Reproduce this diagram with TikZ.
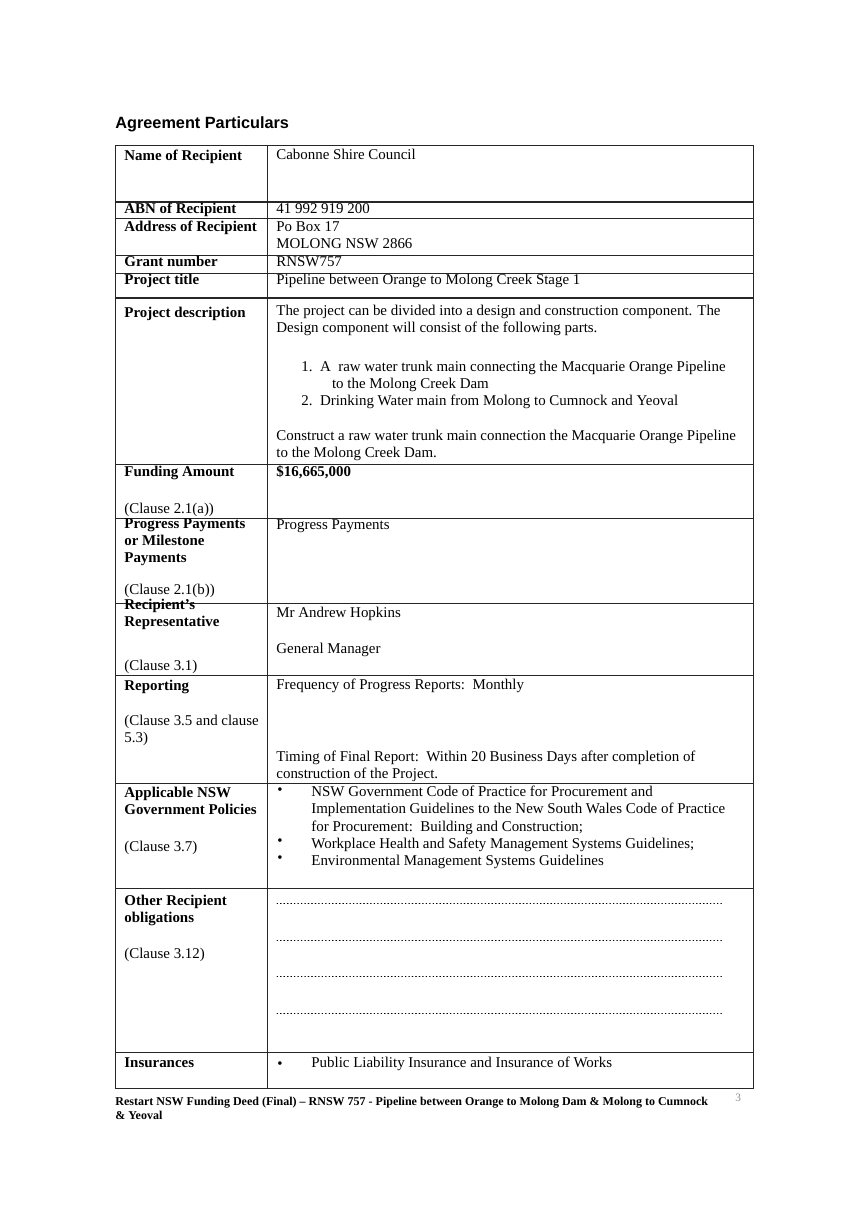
\documentclass[tikz,border=0pt]{standalone}
\usepackage{fontspec}
\setmainfont{Liberation Serif}
\newfontfamily\headfont{Liberation Sans}
\tikzset{every picture/.style={line width=0.6pt},
  cell/.style={anchor=north west,inner sep=0pt,align=left,
    font=\fontsize{11.2}{12.8}\selectfont,execute at begin node=\strut},
  label/.style={cell,font=\fontsize{11.2}{12.8}\selectfont\bfseries},
  rule/.style={line width=0.6pt,black!85},
  dots/.style={line width=0.7pt,dash pattern=on 0.5pt off 2.1pt,line cap=round}}
\newcommand{\bul}{\textbullet}

\begin{document}
\begin{tikzpicture}[x=0.75pt,y=0.75pt,yscale=-1,xscale=1]
\useasboundingbox (0,0) rectangle (853,1206);

\node [anchor=base west,inner sep=0pt,font=\headfont\fontsize{12.2}{14}\selectfont\bfseries] (title) at (115,128) {Agreement Particulars};

% table frame
\draw [rule] (115,145) rectangle (753,1088);
\draw [rule] (267,145) -- (267,1088);
\foreach \y in {201,218,255,273,297,464,518,603,675,783,888,1052}
  \draw [rule] (115,\y) -- (753,\y);
\draw [rule] (115,202.5) -- (753,202.5);
\draw [rule] (115,298.5) -- (753,298.5);

% left column
\node [label] (l1) at (124,148) {Name of Recipient};
\node [label] (l2) at (124,201) {ABN of Recipient};
\node [label] (l3) at (124,219) {Address of Recipient};
\node [label] (l4) at (124,254) {Grant number};
\node [label] (l5) at (124,272) {Project title};
\node [label] (l6) at (124,305) {Project description};
\node [label] (l7) at (124,464) {Funding Amount};
\node [cell] (l7c) at (124,501) {(Clause 2.1(a))};
\node [label] (l8) at (124,518) {Progress Payments\\or Milestone\\Payments};
\node [cell] (l8c) at (124,582) {(Clause 2.1(b))};
\node [label] (l9) at (124,599) {Recipient's\\Representative};
\node [cell] (l9c) at (124,658) {(Clause 3.1)};
\node [label] (l10) at (124,678) {Reporting};
\node [cell] (l10c) at (124,715) {(Clause 3.5 and clause\\5.3)};
\node [label] (l11) at (124,787) {Applicable NSW\\Government Policies};
\node [cell] (l11c) at (124,839) {(Clause 3.7)};
\node [label] (l12) at (124,895) {Other Recipient\\obligations};
\node [cell] (l12c) at (124,946) {(Clause 3.12)};
\node [label] (l13) at (124,1055) {Insurances};

% right column
\node [cell] (r1) at (276,147) {Cabonne Shire Council};
\node [cell] (r2) at (276,201) {41 992 919 200};
\node [cell] (r3) at (276,221) {Po Box 17\\MOLONG NSW 2866};
\node [cell] (r4) at (276,254) {RNSW757};
\node [cell] (r5) at (276,272) {Pipeline between Orange to Molong Creek Stage 1};
\node [cell] (r6) at (276,305) {The project can be divided into a design and construction component. The\\Design component will consist of the following parts.};
\node [cell] (r6a) at (301,361) {1.\ \ A\ \ raw water trunk main connecting the Macquarie Orange Pipeline\\\hspace*{23pt}to the Molong Creek Dam\\2.\ \ Drinking Water main from Molong to Cumnock and Yeoval};
\node [cell] (r6b) at (276,430) {Construct a raw water trunk main connection the Macquarie Orange Pipeline\\to the Molong Creek Dam.};
\node [label] (r7) at (276,464) {\$16,665,000};
\node [cell] (r8) at (276,517) {Progress Payments};
\node [cell] (r9) at (276,605) {Mr Andrew Hopkins};
\node [cell] (r9b) at (276,641) {General Manager};
\node [cell] (r10) at (276,677) {Frequency of Progress Reports:\ \ Monthly};
\node [cell] (r10b) at (276,751) {Timing of Final Report:\ \ Within 20 Business Days after completion of\\construction of the Project.};
\node [cell] (r11) at (277,787) {\bul\\ \\ \\\bul\\\bul};
\node [cell] (r11t) at (311,786) {NSW Government Code of Practice for Procurement and\\Implementation Guidelines to the New South Wales Code of Practice\\for Procurement:\ \ Building and Construction;\\Workplace Health and Safety Management Systems Guidelines;\\Environmental Management Systems Guidelines};
\foreach \y/\n in {903/d1,940/d2,976/d3,1013/d4} {
  \coordinate (\n a) at (277,\y);
  \coordinate (\n b) at (722,\y);
  \draw [dots] (\n a) -- (\n b);
}
\node [cell] (r13) at (277,1056) {\bul};
\node [cell] (r13t) at (311,1055) {Public Liability Insurance and Insurance of Works};

% footer
\node [anchor=base west,inner sep=0pt,align=left,font=\fontsize{9}{10.5}\selectfont\bfseries] (foot) at (115,1119) {Restart NSW Funding Deed (Final) -- RNSW 757 - Pipeline between Orange to Molong Dam \& Molong to Cumnock\\\& Yeoval};
\node [anchor=base west,inner sep=0pt,font=\fontsize{8.5}{10}\selectfont,text=black!45] (page) at (735,1101) {3};
\end{tikzpicture}
\end{document}
